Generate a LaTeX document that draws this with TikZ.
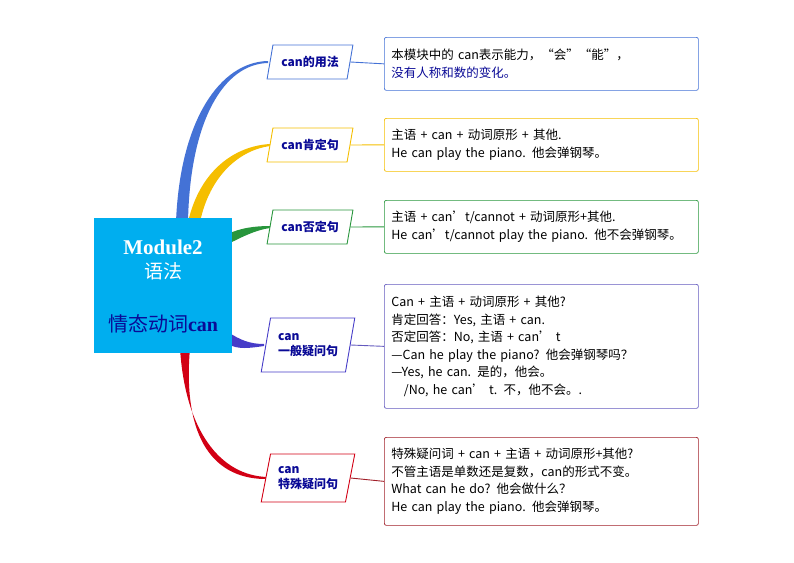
\documentclass[tikz,border=0pt]{standalone}
\usepackage{fontspec}
\setmainfont{Noto Sans CJK SC}
\newfontfamily\serifb{Liberation Serif}
\usetikzlibrary{shapes.geometric}
\definecolor{cbl}{RGB}{68,114,214}
\definecolor{cye}{RGB}{245,190,0}
\definecolor{cgr}{RGB}{40,150,60}
\definecolor{cpu}{RGB}{70,60,200}
\definecolor{cre}{RGB}{210,0,20}
\definecolor{bpu}{RGB}{100,90,190}
\definecolor{bre}{RGB}{160,30,40}
\definecolor{ccy}{RGB}{0,174,239}
\definecolor{tdb}{RGB}{10,10,150}
\begin{document}
\begin{tikzpicture}[x=1pt,y=-1pt,
 lab/.style={trapezium,trapezium left angle=76,trapezium right angle=104,trapezium stretches=true,draw,line width=0.9pt,fill=white,
   font=\fontsize{12}{15}\selectfont\bfseries,text=tdb,minimum height=34pt,minimum width=86pt,inner xsep=0pt,align=center},
 info/.style={draw,rounded corners=2pt,line width=0.7pt,anchor=north west,text width=300pt,
   font=\fontsize{12.5}{17.5}\selectfont,align=left,inner xsep=7pt},
 link/.style={line width=0.9pt}]
\useasboundingbox (0,0) rectangle (794,562);
% branches (tapered)
\fill[cbl] (176,222) .. controls (180,120) and (220,62) .. (268,61) -- (268,63) .. controls (224,64) and (190,120) .. (188,222) -- cycle;
\fill[cye] (188,222) .. controls (200,170) and (235,146) .. (270,144) -- (270,146) .. controls (240,150) and (210,175) .. (200,222) -- cycle;
\fill[cgr] (228,234) .. controls (240,228) and (255,226) .. (270,226) -- (270,228) .. controls (255,230) and (240,238) .. (228,244) -- cycle;
\fill[cpu] (228,332) .. controls (240,340) and (250,344) .. (264,344) -- (264,346) .. controls (250,348) and (238,350) .. (228,344) -- cycle;
\fill[cre] (180,348) .. controls (185,430) and (220,476) .. (268,477) -- (268,479) .. controls (215,480) and (182,440) .. (190,348) -- cycle;
% central
\node[fill=ccy,minimum width=138pt,minimum height=135pt,inner sep=0pt] (c) at (163,285.5) {};
\node[text=white,font=\serifb\bfseries\fontsize{21}{24}\selectfont] (t1) at (163,247) {Module2};
\node[text=white,font=\fontsize{19}{22}\selectfont] (t2) at (163,271) {语法};
\node[text=tdb,font=\fontsize{20}{24}\selectfont] (t3) at (163,324) {情态动词{\serifb\bfseries can}};
% labels
\node[lab,draw=cbl] (l1) at (310,62) {can的用法};
\node[lab,draw=cye] (l2) at (310,145) {can肯定句};
\node[lab,draw=cgr] (l3) at (310,227) {can否定句};
\node[lab,draw=cpu,minimum height=54pt,minimum width=94pt,align=left] (l4) at (308,345) {can\\一般疑问句};
\node[lab,draw=cre,minimum height=48pt,minimum width=94pt,align=left] (l5) at (308,478) {can\\特殊疑问句};
% info boxes
\node[info,draw=cbl,minimum height=53pt] (b1) at (384,37) {本模块中的 can表示能力，“会”“能”，\\\textcolor{tdb}{没有人称和数的变化。}};
\node[info,draw=cye,minimum height=53pt] (b2) at (384,118) {主语 + can + 动词原形 + 其他.\\He can play the piano. 他会弹钢琴。};
\node[info,draw=cgr,minimum height=53pt] (b3) at (384,200) {主语 + can’t/cannot + 动词原形+其他.\\He can't/cannot play the piano. 他不会弹钢琴。};
\node[info,draw=bpu,minimum height=124pt] (b4) at (384,284) {Can + 主语 + 动词原形 + 其他?\\肯定回答：Yes, 主语 + can.\\否定回答：No, 主语 + can’ t\\—Can he play the piano? 他会弹钢琴吗？\\—Yes, he can. 是的，他会。\\\hspace*{1em}/No, he can’ t. 不，他不会。.};
\node[info,draw=bre,minimum height=88pt] (b5) at (384,437) {特殊疑问词 + can + 主语 + 动词原形+其他?\\不管主语是单数还是复数，can的形式不变。\\What can he do? 他会做什么？\\He can play the piano. 他会弹钢琴。};
\draw[link,cbl] (l1.east) -- (b1.west);
\draw[link,cye] (l2.east) -- (b2.west);
\draw[link,cgr] (l3.east) -- (b3.west);
\draw[link,bpu] (l4.east) -- (b4.west);
\draw[link,bre] (l5.east) -- (b5.west);
\end{tikzpicture}
\end{document}
